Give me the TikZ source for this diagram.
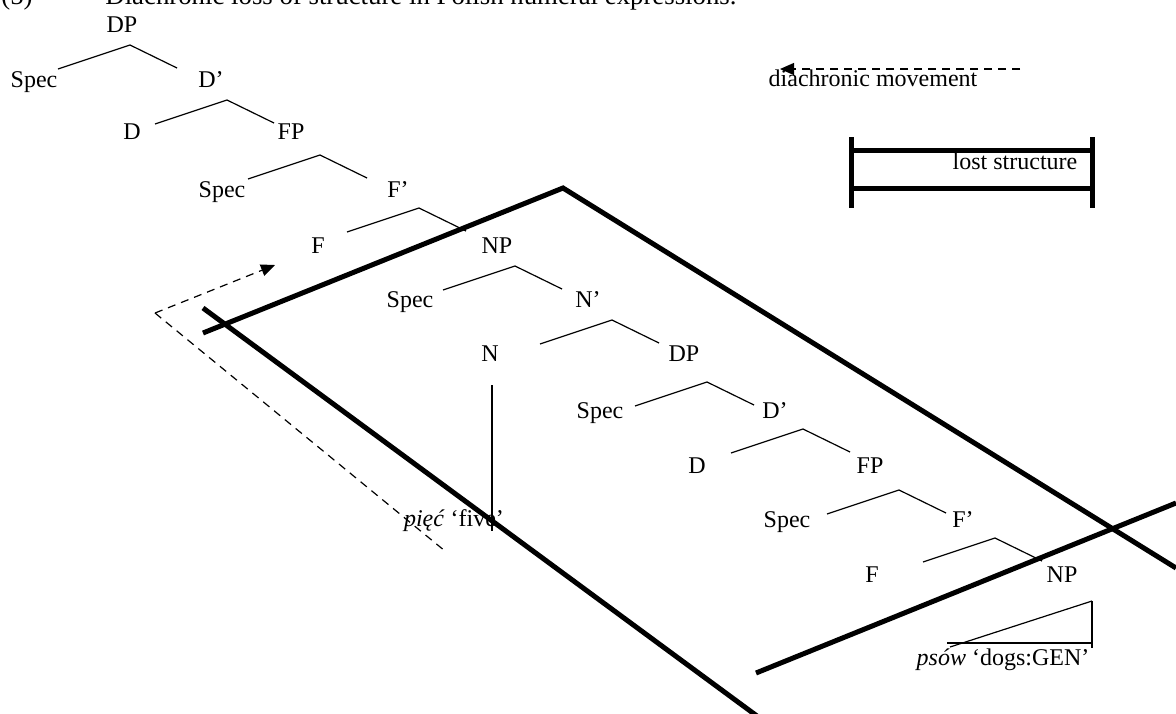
\documentclass[tikz,border=0pt]{standalone}
\usepackage{fontspec}
\setmainfont{Liberation Serif}
\usetikzlibrary{arrows.meta}
\tikzset{lbl/.style={inner sep=0pt,anchor=base},
  tree/.style={line width=.6pt},
  heavy/.style={line width=2.5pt},
  mv/.style={dash pattern=on 4pt off 3pt,line width=.6pt},
  tip/.style={-{Triangle[length=7pt,width=6pt]}}}
\newcommand\branch[1]{\draw[tree] (#1) ++(-72,24) -- (#1) -- ++(47,23);}

\begin{document}
\begin{tikzpicture}[x=.5pt,y=-.5pt,font=\fontsize{12}{14}\selectfont]
\useasboundingbox (0,0) rectangle (1176,713);
\node[lbl,anchor=base west,font=\fontsize{13.4}{16}\selectfont] (num) at (1,4) {(5)};
\node[lbl,anchor=base west,font=\fontsize{13.4}{16}\selectfont] (ttl) at (105,4) {Diachronic loss of structure in Polish numeral expressions.};
\node[lbl] (DPa) at (122,32) {DP};
\node[lbl] (Speca) at (34,87) {Spec};\node[lbl] (Dba) at (211,87) {D’};
\node[lbl] (Da) at (132,139) {D};\node[lbl] (FPa) at (291,139) {FP};
\node[lbl] (Specb) at (222,197) {Spec};\node[lbl] (Fba) at (398,197) {F’};
\node[lbl] (Fa) at (318,253) {F};\node[lbl] (NPa) at (497,253) {NP};
\node[lbl] (Specc) at (410,307) {Spec};\node[lbl] (Nb) at (588,307) {N’};
\node[lbl] (N) at (490,361) {N};\node[lbl] (DPb) at (684,361) {DP};
\node[lbl] (Specd) at (600,418) {Spec};\node[lbl] (Dbb) at (775,418) {D’};
\node[lbl] (Db) at (697,473) {D};\node[lbl] (FPb) at (870,473) {FP};
\node[lbl] (Spece) at (787,527) {Spec};\node[lbl] (Fbb) at (963,527) {F’};
\node[lbl] (Fb) at (872,582) {F};\node[lbl] (NPb) at (1062,582) {NP};
\node[lbl] (piec) at (454,526) {\textit{pięć} ‘five’};
\node[lbl] (psow) at (1003,665) {\textit{psów} ‘dogs:GEN’};
\node[lbl] (mvtxt) at (873,86) {diachronic movement};
\node[lbl] (lost) at (1015,169) {lost structure};
\coordinate (a1) at (130,45);\coordinate (a2) at (227,100);\coordinate (a3) at (320,155);
\coordinate (a4) at (419,208);\coordinate (a5) at (515,266);\coordinate (a6) at (612,320);
\coordinate (a7) at (707,382);\coordinate (a8) at (803,429);\coordinate (a9) at (899,490);
\coordinate (a10) at (995,538);
\foreach \a in {a1,a2,a3,a4,a5,a6,a7,a8,a9,a10}{\branch{\a}}
\coordinate (n1) at (492,385);\coordinate (n2) at (492,531);
\draw[tree] (n1)--(n2);
\coordinate (t) at (1092,601);\coordinate (tl) at (947,643);\coordinate (tr) at (1092,643);
\draw[tree] (tl)--(tr);\draw[tree] (t)--(1092,648);\draw[tree] (950,647)--(t);
\coordinate (P) at (563,188);
\draw[heavy] (203,333)--(P)--(1176,568);
\draw[heavy] (203,308)--(757,716);
\draw[heavy] (756,673)--(1176,503);
\coordinate (K) at (155,313);
\draw[mv,tip] (K)--(275,265);\draw[mv] (K)--(445,551);
\draw[mv,tip] (1020,69)--(780,69);
\draw[heavy] (851,137)--(851,208);\draw[heavy] (1092,137)--(1092,208);
\draw[heavy] (851,150)--(1092,150);\draw[heavy] (851,188)--(1092,188);
\end{tikzpicture}
\end{document}
